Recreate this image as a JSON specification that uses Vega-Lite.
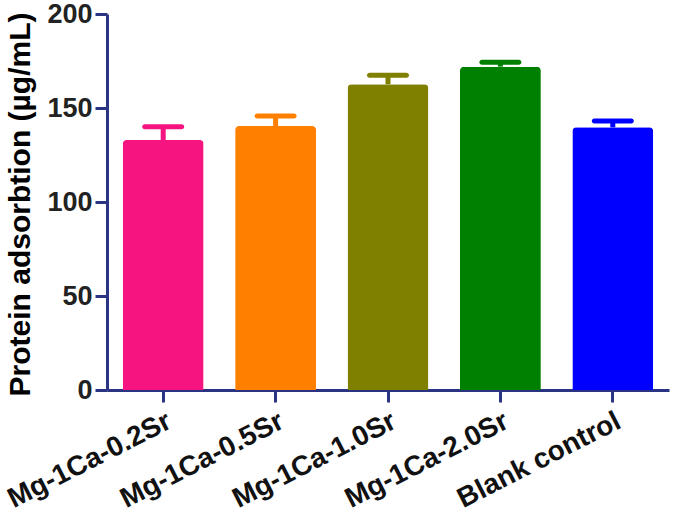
{
  "$schema": "https://vega.github.io/schema/vega-lite/v6.json",
  "width": 562,
  "height": 376,
  "autosize": {"type": "none"},
  "padding": {"left": 107, "top": 14, "right": 6, "bottom": 125},
  "background": "white",
  "config": {
    "view": {"stroke": null},
    "font": "Liberation Sans"
  },
  "data": {
    "values": [
      {"group": "Mg-1Ca-0.2Sr", "mean": 133.0, "upper": 140.0},
      {"group": "Mg-1Ca-0.5Sr", "mean": 140.4, "upper": 145.7},
      {"group": "Mg-1Ca-1.0Sr", "mean": 162.6, "upper": 167.4},
      {"group": "Mg-1Ca-2.0Sr", "mean": 172.0, "upper": 174.3},
      {"group": "Blank control", "mean": 139.7, "upper": 143.1}
    ]
  },
  "encoding": {
    "x": {
      "field": "group",
      "type": "nominal",
      "sort": null,
      "scale": {"paddingInner": 0.28, "paddingOuter": 0.14},
      "axis": {
        "title": null,
        "labelAngle": -27,
        "labelFont": "Liberation Sans",
        "labelFontWeight": "bold",
        "labelFontSize": 28,
        "labelColor": "#111111",
        "labelAlign": "right",
        "labelBaseline": "top",
        "labelPadding": 5,
        "labelOffset": 0,
        "domainColor": "#2B3383",
        "domainWidth": 3,
        "tickColor": "#2B3383",
        "tickWidth": 3,
        "tickSize": 12,
        "grid": false
      }
    },
    "color": {
      "field": "group",
      "type": "nominal",
      "scale": {
        "domain": ["Mg-1Ca-0.2Sr", "Mg-1Ca-0.5Sr", "Mg-1Ca-1.0Sr", "Mg-1Ca-2.0Sr", "Blank control"],
        "range": ["#F61480", "#FF8000", "#808000", "#008000", "#0000FF"]
      },
      "legend": null
    }
  },
  "layer": [
    {
      "mark": {"type": "bar", "cornerRadiusTopLeft": 4, "cornerRadiusTopRight": 4},
      "encoding": {
        "y": {
          "field": "mean",
          "type": "quantitative",
          "scale": {"domain": [0, 200], "nice": false},
          "axis": {
            "values": [0, 50, 100, 150, 200],
            "title": "Protein adsorbtion (µg/mL)",
            "titleFont": "Liberation Sans",
            "titleFontWeight": "bold",
            "titleFontSize": 30,
            "titleColor": "#000000",
            "titleAngle": -90,
            "titleAlign": "center",
            "titleBaseline": "alphabetic",
            "titleX": -78,
            "titleY": 190,
            "labelFont": "Liberation Sans",
            "labelFontWeight": "bold",
            "labelFontSize": 27,
            "labelColor": "#222222",
            "labelPadding": 3,
            "domainColor": "#2B3383",
            "domainWidth": 3,
            "tickColor": "#2B3383",
            "tickWidth": 3,
            "tickSize": 12,
            "grid": false
          }
        }
      }
    },
    {
      "mark": {"type": "rule", "strokeWidth": 5},
      "encoding": {
        "y": {"field": "mean", "type": "quantitative"},
        "y2": {"field": "upper"}
      }
    },
    {
      "mark": {"type": "tick", "size": 42, "thickness": 5, "cornerRadius": 2.5, "opacity": 1},
      "encoding": {
        "y": {"field": "upper", "type": "quantitative"}
      }
    }
  ]
}
